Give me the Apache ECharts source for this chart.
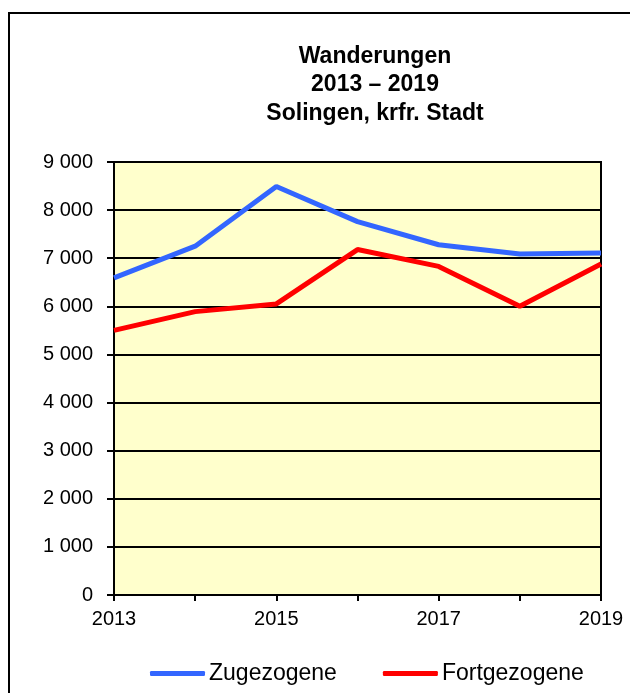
<!DOCTYPE html>
<html>
<head>
<meta charset="utf-8">
<script src="https://cdn.jsdelivr.net/npm/echarts@6/dist/echarts.min.js"></script>
<style>
  html, body { margin: 0; padding: 0; background: #ffffff; }
  #chart { width: 630px; height: 693px; }
</style>
</head>
<body>
<div id="chart"></div>
<script>
// Wanderungen (Zu- und Fortzüge), Solingen, kreisfreie Stadt
var years = ['2013', '2014', '2015', '2016', '2017', '2018', '2019'];
var zugezogene = [6590, 7250, 8490, 7760, 7280, 7090, 7110];
var fortgezogene = [5500, 5890, 6050, 7180, 6830, 6000, 6880];
var titleLines = ['Wanderungen', '2013 \u2013 2019', 'Solingen, krfr. Stadt'];

var FONT = '"Liberation Sans", Arial, sans-serif';

function formatThousands(v) {
  return String(v).replace(/\B(?=(\d{3})+(?!\d))/g, ' ');
}

var chart = echarts.init(document.getElementById('chart'), null, { renderer: 'canvas' });

chart.setOption({
  animation: false,
  backgroundColor: '#ffffff',
  textStyle: { fontFamily: FONT },
  graphic: [{
    type: 'rect',
    shape: { x: 9, y: 13, width: 640, height: 700 },
    style: { fill: 'none', stroke: '#000000', lineWidth: 2 },
    silent: true
  }],
  title: {
    text: titleLines.join('\n'),
    left: 370,
    textAlign: 'center',
    top: 37,
    textStyle: {
      fontFamily: FONT,
      fontSize: 23,
      fontWeight: 'bold',
      lineHeight: 28.5,
      color: '#000000'
    }
  },
  legend: {
    left: 145,
    top: 657,
    itemWidth: 55,
    itemHeight: 5,
    itemGap: 46,
    icon: 'roundRect',
    textStyle: { fontFamily: FONT, fontSize: 23, color: '#000000', padding: [0, 0, 0, -1] },
    data: ['Zugezogene', 'Fortgezogene']
  },
  grid: {
    left: 114,
    right: 29,
    top: 162,
    bottom: 98,
    show: true,
    backgroundColor: '#FFFFCC',
    borderColor: '#000000',
    borderWidth: 2
  },
  xAxis: {
    type: 'category',
    data: years,
    boundaryGap: false,
    axisLine: { lineStyle: { color: '#000000', width: 2 } },
    axisTick: { show: true, length: 6, interval: 0, lineStyle: { color: '#000000', width: 2 } },
    axisLabel: {
      interval: 1,
      margin: 14,
      fontFamily: FONT,
      fontSize: 20,
      color: '#000000'
    },
    splitLine: { show: false }
  },
  yAxis: {
    type: 'value',
    min: 0,
    max: 9000,
    interval: 1000,
    axisLine: { show: true, lineStyle: { color: '#000000', width: 2 } },
    axisTick: { show: true, length: 7, lineStyle: { color: '#000000', width: 2 } },
    axisLabel: {
      margin: 21,
      fontFamily: FONT,
      fontSize: 20,
      color: '#000000',
      formatter: formatThousands
    },
    splitLine: { show: true, lineStyle: { color: '#000000', width: 2 } }
  },
  series: [
    {
      name: 'Zugezogene',
      type: 'line',
      data: zugezogene,
      showSymbol: false,
      symbol: 'none',
      color: '#3366FF',
      lineStyle: { color: '#3366FF', width: 5 }
    },
    {
      name: 'Fortgezogene',
      type: 'line',
      data: fortgezogene,
      showSymbol: false,
      symbol: 'none',
      color: '#FF0000',
      lineStyle: { color: '#FF0000', width: 5 }
    }
  ]
});
</script>
</body>
</html>
